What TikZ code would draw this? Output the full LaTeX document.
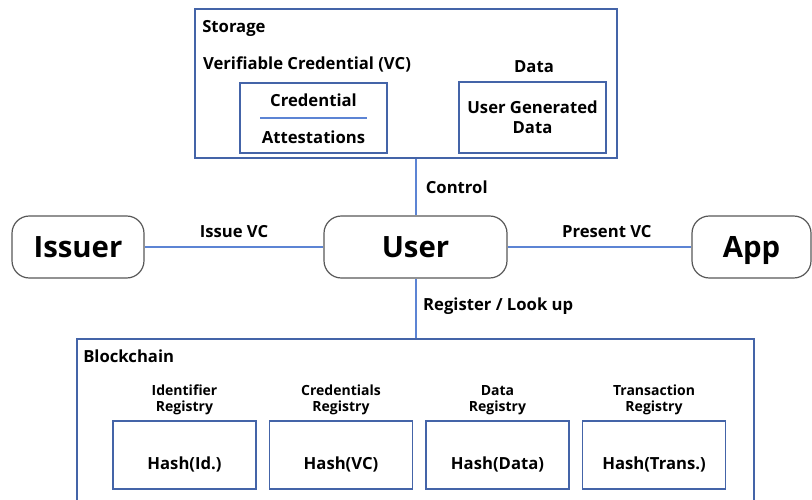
\documentclass[tikz,border=0pt]{standalone}
\usepackage{fontspec}
\setmainfont{Open Sans}
\usepackage{tikz}
\usetikzlibrary{positioning}
\definecolor{frameblue}{RGB}{68,100,168}
\definecolor{linkblue}{RGB}{92,132,212}
\definecolor{roundgray}{RGB}{88,88,88}
\newcommand{\bigfont}{\bfseries\fontsize{22}{25}\selectfont}
\newcommand{\tagfont}{\bfseries\fontsize{12.5}{15}\selectfont}
\newcommand{\smallfont}{\bfseries\fontsize{10.5}{11.5}\selectfont}
\tikzset{
  party/.style={draw=roundgray, line width=0.9pt, rounded corners=13pt, minimum height=46.5pt,
    inner sep=0pt, text height=19pt, text depth=4pt, font=\bigfont},
  panel/.style={draw=frameblue, line width=1.2pt, inner sep=0pt},
  record/.style={panel, align=center, font=\tagfont},
  hashbox/.style={record, minimum width=107.5pt, minimum height=51pt, text height=24pt, text depth=3pt},
  link/.style={draw=linkblue, line width=1.5pt},
  tag/.style={inner sep=0pt, font=\tagfont},
  regtag/.style={inner sep=0pt, align=center, font=\smallfont},
}

\begin{document}
\begin{tikzpicture}[x=0.75pt, y=-0.75pt]
\clip (0,0) rectangle (812,499);
% storage
\node[panel, minimum width=316.5pt, minimum height=111.75pt] (storage) at (406,83.5) {};
\node[tag, anchor=base west] (storagetitle) at (202,33) {Storage};
\node[tag, anchor=base] (vctitle) at (307,70) {Verifiable Credential (VC)};
\node[panel, minimum width=110.25pt, minimum height=52.5pt] (vc) at (313.5,118) {};
\node[tag] (credential) at (313.5,100) {Credential};
\node[tag] (attest) at (313.5,137) {Attestations};
\draw[link, line width=1pt] ([xshift=-40pt]vc.center) -- ([xshift=40pt]vc.center);
\node[tag, anchor=base] (datatitle) at (534,73) {Data};
\node[record, minimum width=110.25pt, minimum height=53.25pt] (data) at (532.5,117.5) {User Generated\\Data};
% parties
\node[party, minimum width=99pt] (issuer) at (78,247) {Issuer};
\node[party, minimum width=137.25pt] (user) at (415.5,247) {User};
\node[party, minimum width=89.25pt] (app) at (751.5,247) {App};
% blockchain
\node[panel, minimum width=507.75pt, minimum height=124.5pt] (chain) at (415.5,422) {};
\node[tag, anchor=base west] (chaintitle) at (83,362) {Blockchain};
\foreach \name/\x/\title/\hash in {idreg/184.5/Identifier\\Registry/Hash(Id.),
    vcreg/341/Credentials\\Registry/Hash(VC),
    datareg/497.5/Data\\Registry/Hash(Data),
    transreg/654/Transaction\\Registry/Hash(Trans.)}{
  \node[hashbox] (\name) at (\x,455) {\hash};
  \node[regtag, above=4pt of \name] (\name-head) {\title};
}
% links
\draw[link] (issuer) -- node[tag, above=6pt] (issuelbl) {Issue VC} (user);
\draw[link] (user) -- node[tag, pos=0.54, above=6pt] (presentlbl) {Present VC} (app);
\draw[link] (user.north) -- node[tag, right=7pt] (controllbl) {Control} (user.north |- storage.south);
\draw[link] (user.south) -- node[tag, pos=0.47, right=5pt] (registerlbl) {Register / Look up} (user.south |- chain.north);
\end{tikzpicture}
\end{document}
